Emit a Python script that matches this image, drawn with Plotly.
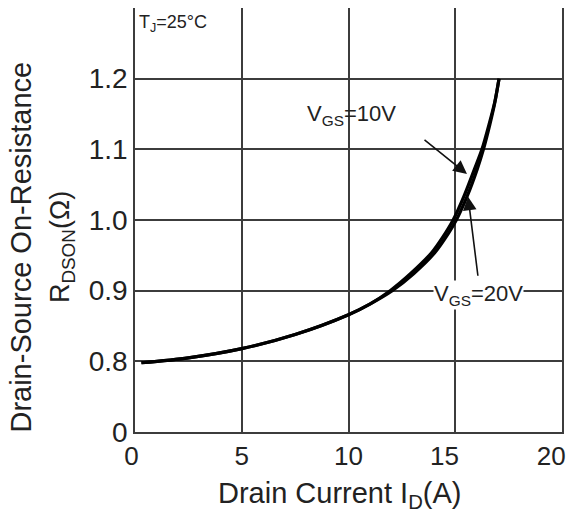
import plotly.graph_objects as go

# Data
id_10v = [0.3, 2.5, 5.0, 7.5, 10.0, 11.0, 11.95, 12.9, 13.9, 14.4, 14.9, 15.4, 15.9, 16.25, 16.58, 16.85, 17.05]
r_10v = [0.798, 0.805, 0.818, 0.838, 0.866, 0.881, 0.900, 0.924, 0.954, 0.975, 1.000, 1.033, 1.072, 1.100, 1.135, 1.167, 1.200]
id_20v = [0.3, 2.5, 5.0, 7.5, 10.0, 11.0, 12.05, 13.05, 14.05, 14.55, 15.05, 15.55, 16.03, 16.32, 16.62, 16.86, 17.05]
r_20v = [0.798, 0.805, 0.818, 0.838, 0.866, 0.881, 0.900, 0.924, 0.954, 0.975, 1.000, 1.033, 1.072, 1.100, 1.135, 1.167, 1.200]

x_ticks = [0, 5, 10, 15, 20]
x_ticktext = ["0\u00a0", "5", "10", "15\u00a0\u00a0\u00a0", "20\u00a0\u00a0\u00a0"]
y_ticks = [0.7, 0.8, 0.9, 1.0, 1.1, 1.2]
y_ticktext = ["0", "0.8", "0.9", "1.0", "1.1", "1.2"]

FONT = "Liberation Sans, Arial, sans-serif"
TXT = "#222222"
GRID = "#3c3c3c"

fig = go.Figure()
fig.add_trace(go.Scatter(x=id_10v, y=r_10v, mode="lines", name="VGS=10V",
                         line=dict(color="black", width=3.2, shape="spline", smoothing=0.8)))
fig.add_trace(go.Scatter(x=id_20v, y=r_20v, mode="lines", name="VGS=20V",
                         line=dict(color="black", width=3.2, shape="spline", smoothing=0.8)))

fig.update_layout(
    width=568, height=515,
    margin=dict(l=135, r=6, t=8, b=83),
    paper_bgcolor="white", plot_bgcolor="white",
    showlegend=False,
    font=dict(family=FONT, color=TXT, size=26),
)
fig.update_xaxes(
    range=[0, 20], tickvals=x_ticks, ticktext=x_ticktext,
    showgrid=True, gridcolor=GRID, gridwidth=1.5,
    showline=True, linecolor=GRID, linewidth=1.5, mirror=False,
    ticks="", zeroline=False, tickfont=dict(size=26, color=TXT),
    ticklabeloverflow="allow", automargin=False,
)
fig.update_yaxes(
    range=[0.7, 1.3], tickvals=y_ticks, ticktext=y_ticktext,
    showgrid=True, gridcolor=GRID, gridwidth=1.5,
    showline=True, linecolor=GRID, linewidth=1.5, mirror=True,
    ticks="", zeroline=False, tickfont=dict(size=28, color=TXT),
    automargin=False,
)

# Axis titles
fig.add_annotation(text="Drain Current I<sub>D</sub>(A)", xref="paper", yref="paper",
                   x=0.48, y=-0.149, xanchor="center", yanchor="middle",
                   showarrow=False, font=dict(size=29, color=TXT))
fig.add_annotation(text="Drain-Source On-Resistance", xref="paper", yref="paper",
                   x=-0.266, y=0.436, xanchor="center", yanchor="middle",
                   textangle=-90, showarrow=False, font=dict(size=29, color=TXT))
fig.add_annotation(text="R<sub>DSON</sub>(Ω)", xref="paper", yref="paper",
                   x=-0.171, y=0.436, xanchor="center", yanchor="middle",
                   textangle=-90, showarrow=False, font=dict(size=27, color=TXT))

# Condition
fig.add_annotation(text="T<sub>J</sub>=25°C", xref="paper", yref="paper",
                   x=0.005, y=0.995, xanchor="left", yanchor="top", showarrow=False,
                   font=dict(size=18, color=TXT))

# Series labels with arrows
fig.add_annotation(text="V<sub>GS</sub>=10V", x=10.16, y=1.149, showarrow=False,
                   xanchor="center", yanchor="middle", font=dict(size=22, color=TXT))
fig.add_annotation(x=15.55, y=1.065, ax=13.49, ay=1.115, axref="x", ayref="y",
                   text="", showarrow=True, arrowhead=2, arrowsize=1.7, arrowwidth=1.6,
                   arrowcolor="#111111")
fig.add_annotation(text="V<sub>GS</sub>=20V", x=16.11, y=0.894, showarrow=False,
                   xanchor="center", yanchor="middle",
                   bgcolor="white", borderpad=0, font=dict(size=22, color=TXT))
fig.add_annotation(x=15.6, y=1.033, ax=16.07, ay=0.919, axref="x", ayref="y",
                   text="", showarrow=True, arrowhead=2, arrowsize=1.7, arrowwidth=1.6,
                   arrowcolor="#111111")

fig.write_html("out.html")
